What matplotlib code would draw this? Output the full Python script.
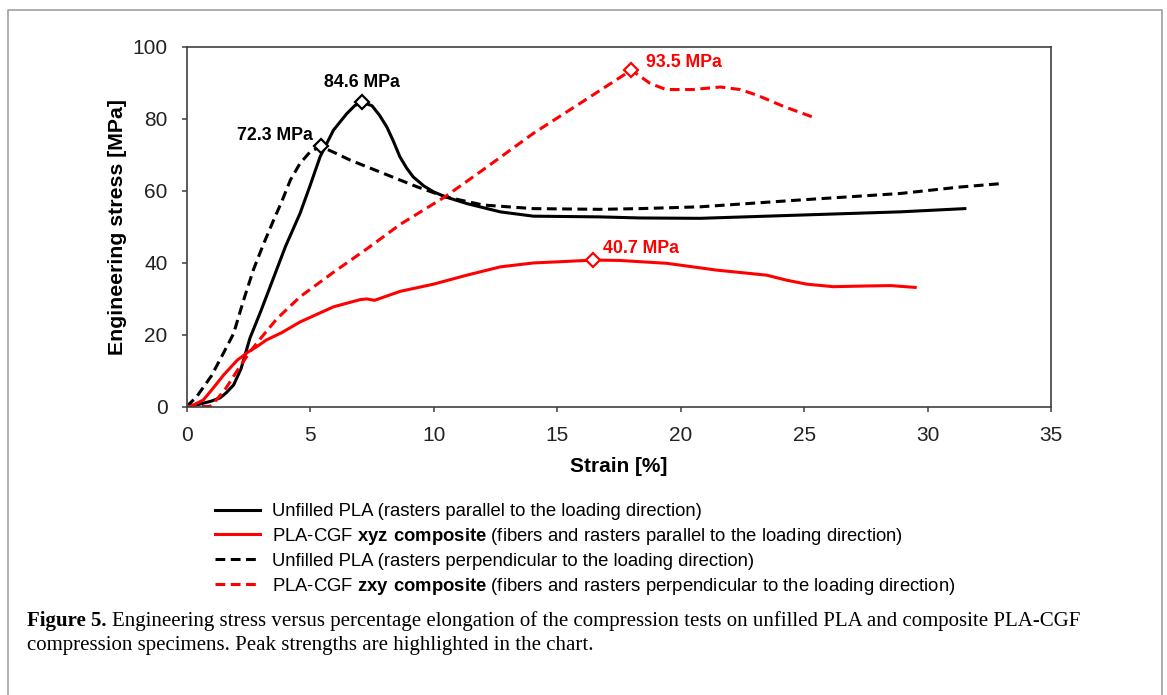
import matplotlib
matplotlib.use("Agg")
import matplotlib.pyplot as plt
from matplotlib import font_manager
from matplotlib.lines import Line2D

# --- data ---
x_par = [0, 0.5, 1.0, 1.35, 1.6, 1.9, 2.2, 2.56, 3.0, 3.5, 4.0, 4.59, 5.0, 5.4, 5.94, 6.48, 6.8,
         7.08, 7.5, 7.8, 8.1, 8.35, 8.63, 8.9, 9.17, 9.6, 9.98, 10.46, 11.34, 12.69, 14.03, 16.73,
         18.35, 20.78, 24.83, 28.88, 31.5]
y_par = [0, 0.6, 1.5, 2.4, 3.8, 6.0, 10.5, 19.0, 26.5, 35.5, 44.5, 53.7, 61.5, 69.4, 76.8, 81.4, 83.6,
         84.6, 83.6, 81.0, 77.7, 74.0, 69.4, 66.3, 63.8, 61.3, 59.7, 58.3, 56.4, 54.1, 52.9, 52.7,
         52.4, 52.3, 53.2, 54.1, 55.0]

x_xyz = [0, 0.3, 0.67, 1.0, 1.5, 2.05, 2.5, 2.83, 3.23, 3.84, 4.59, 5.94, 7.02, 7.29, 7.6, 8.64,
         9.99, 11.34, 12.69, 14.04, 15.3, 16.46, 17.5, 19.43, 21.46, 23.48, 24.29, 25.1, 26.18,
         27.53, 28.5, 29.49]
y_xyz = [0, 0.5, 1.8, 4.5, 8.8, 12.9, 15.2, 16.6, 18.5, 20.5, 23.5, 27.7, 29.7, 29.9, 29.5, 32.0,
         34.0, 36.5, 38.8, 39.9, 40.3, 40.7, 40.6, 39.8, 37.9, 36.5, 35.1, 34.0, 33.3,
         33.5, 33.6, 33.1]

x_perp = [0, 0.4, 1.0, 1.5, 1.9, 2.3, 2.7, 3.1, 3.5, 3.85, 4.2, 4.59, 5.0, 5.42, 6.0, 6.61, 7.96,
          9.31, 10.46, 12.0, 14.03, 16.73, 18.35, 20.78, 24.83, 28.88, 31.3, 33.06]
y_perp = [0, 2.7, 8.5, 15.0, 20.3, 29.5, 38.0, 45.0, 51.5, 57.0, 63.0, 67.6, 70.8, 72.3, 70.5, 68.5, 64.8,
          61.1, 58.3, 56.0, 55.0, 54.8, 55.0, 55.5, 57.4, 59.2, 61.0, 62.0]

x_zxy = [0, 0.5, 0.93, 1.2, 1.6, 2.0, 2.56, 3.0, 3.64, 4.59, 5.94, 7.29, 8.64, 10.46, 12.0, 14.03,
         16.0, 18.0, 18.76, 19.4, 20.5, 21.6, 22.4, 23.1, 24.2, 25.4]
y_zxy = [0, 0, 0, 1.8, 5.2, 9.5, 15.2, 19.0, 24.3, 30.5, 37.3, 43.8, 50.6, 58.3, 65.8, 75.9,
         84.6, 93.5, 89.8, 88.1, 88.1, 88.8, 88.1, 86.5, 83.3, 80.3]

peak_x = [7.08, 5.42, 16.46, 18.0]
peak_y = [84.6, 72.3, 40.7, 93.5]
peak_lbl = ["84.6 MPa", "72.3 MPa", "40.7 MPa", "93.5 MPa"]

labels = [
    "Unfilled PLA (rasters parallel to the loading direction)",
    r"PLA-CGF $\mathbf{xyz\ composite}$ (fibers and rasters parallel to the loading direction)",
    "Unfilled PLA (rasters perpendicular to the loading direction)",
    r"PLA-CGF $\mathbf{zxy\ composite}$ (fibers and rasters perpendicular to the loading direction)",
]

# --- fonts ---
names = {f.name for f in font_manager.fontManager.ttflist}
narrow = "Liberation Sans Narrow" if "Liberation Sans Narrow" in names else "Liberation Sans"
leg_size = 15.5 if narrow == "Liberation Sans Narrow" else 13.3

plt.rcParams["font.family"] = ["Liberation Sans", "DejaVu Sans"]
plt.rcParams["mathtext.fontset"] = "custom"
plt.rcParams["mathtext.rm"] = narrow
plt.rcParams["mathtext.bf"] = narrow + ":bold"

W, H = 1167, 695
fig = plt.figure(figsize=(W / 100, H / 100), dpi=100)
ax = fig.add_axes([186.7 / W, 1 - 406.5 / H, (1051.3 - 186.7) / W, (406.5 - 46.7) / H])

lw = 2.2
dash = (0, (3.2, 1.8))
ax.plot(x_par, y_par, color="black", lw=lw)
ax.plot(x_xyz, y_xyz, color="#ff0000", lw=lw)
ax.plot(x_perp, y_perp, color="black", lw=lw, ls=dash)
ax.plot(x_zxy, y_zxy, color="#ff0000", lw=lw, ls=dash)

cols = ["black", "black", "#ff0000", "#ff0000"]
offs = [(0, 20), (-8, 11), (10, 12), (15, 8)]
has = ["center", "right", "left", "left"]
for px, py, t, c, o, h in zip(peak_x, peak_y, peak_lbl, cols, offs, has):
    ax.plot(px, py, marker="D", ms=7, mfc="white", mec=c, mew=1.6, zorder=5)
    ax.annotate(t, (px, py), xytext=o, textcoords="offset pixels", ha=h, va="center",
                color=c, fontsize=12.8, fontweight="bold")

ax.set_xlim(0, 35)
ax.set_ylim(0, 100)
ax.set_xticks(range(0, 36, 5))
ax.set_yticks(range(0, 101, 20))
for s in ax.spines.values():
    s.set_color("#404040")
    s.set_linewidth(1.2)
ax.tick_params(direction="out", length=3.8, width=1.1, color="#404040", labelsize=15,
               labelcolor="#222222", pad=10)

ax.set_xlabel("Strain [%]", fontsize=15, fontweight="bold")
ax.xaxis.set_label_coords(0.5, (406.5 - 457) / 359.8)
ax.set_ylabel("Engineering stress [MPa]", fontsize=15.3, fontweight="bold")
ax.yaxis.set_label_coords((127 - 186.7) / 864.6, 0.5)

fig.legend(ax.lines[:4], labels, loc="upper left", bbox_to_anchor=(215 / W, 1 - 503 / H),
           frameon=False, borderaxespad=0, borderpad=0, handlelength=2.45,
           handletextpad=0.62, labelspacing=0.32, prop={"family": narrow, "size": leg_size})

# caption
cap = {"family": "Liberation Serif", "size": 15}
t1 = fig.text(27 / W, 1 - 626 / H, "Figure 5.", fontweight="bold", va="baseline", **cap)
fig.canvas.draw()
bb = t1.get_window_extent()
fig.text(bb.x1 / W + 5 / W, 1 - 626 / H,
         "Engineering stress versus percentage elongation of the compression tests on "
         "unfilled PLA and composite PLA-CGF", va="baseline", **cap)
fig.text(27 / W, 1 - 650 / H, "compression specimens. Peak strengths are highlighted in the chart.",
         va="baseline", **cap)

# frame around the figure panel
bx = [7.5 / W, 7.5 / W, 1162 / W, 1162 / W]
by = [0, 1 - 10 / H, 1 - 10 / H, 0]
fig.add_artist(Line2D(bx, by, transform=fig.transFigure, color="#a0a0a0", lw=1.2))

fig.savefig("out.png", dpi=100)
